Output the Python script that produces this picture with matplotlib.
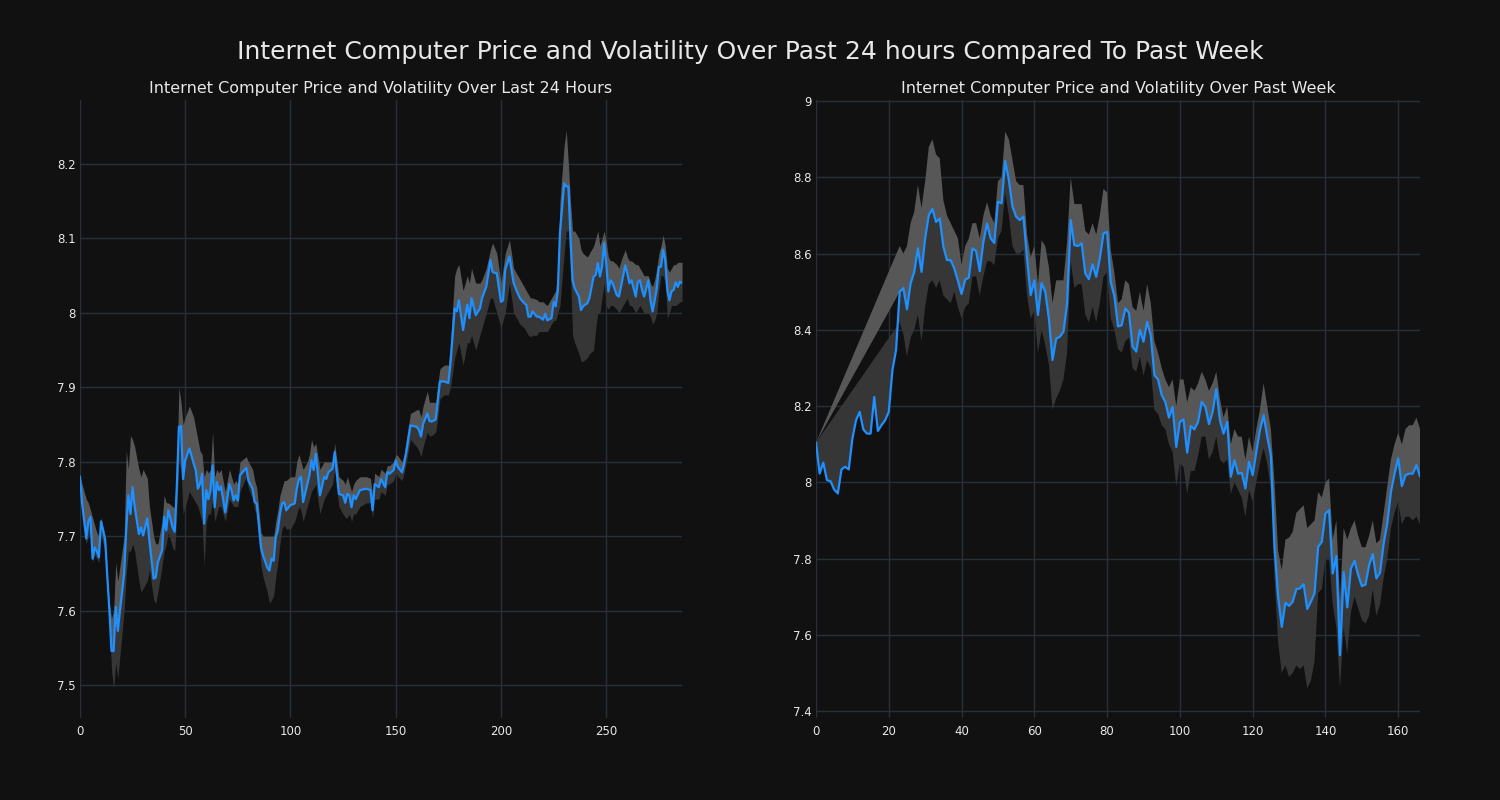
import matplotlib.pyplot as plt
from matplotlib.ticker import FuncFormatter, MultipleLocator

# last 24 hours (5 min steps)
day_x = [0, 1, 3, 4, 5, 6, 7, 8, 9, 10, 12, 13, 14, 15, 16, 17, 18, 19, 21, 22,
         23, 24, 25, 26, 28, 29, 30, 32, 33, 35, 36, 37, 39, 40, 41, 42, 44, 45, 46, 47,
         48, 49, 50, 52, 54, 55, 56, 57, 58, 59, 60, 61, 62, 63, 64, 65, 66, 67, 68, 69,
         71, 72, 73, 74, 75, 76, 79, 80, 82, 83, 84, 86, 87, 89, 90, 91, 92, 93, 94, 95,
         96, 97, 98, 100, 102, 103, 104, 105, 106, 108, 109, 110, 111, 112, 114, 116, 117, 118, 120, 121,
         123, 125, 126, 127, 128, 129, 130, 131, 133, 136, 138, 139, 140, 142, 143, 145, 146, 147, 149, 150,
         151, 153, 154, 155, 157, 160, 161, 162, 163, 165, 166, 167, 169, 170, 171, 173, 175, 176, 178, 179,
         180, 182, 183, 184, 185, 186, 188, 190, 191, 193, 195, 196, 198, 200, 201, 202, 204, 205, 206, 208,
         209, 211, 212, 213, 214, 215, 217, 218, 220, 221, 222, 224, 225, 226, 227, 228, 230, 231, 232, 233,
         234, 235, 237, 238, 239, 241, 242, 244, 245, 246, 247, 248, 249, 250, 251, 252, 253, 255, 256, 257,
         259, 260, 261, 262, 264, 265, 266, 267, 268, 270, 271, 272, 273, 274, 275, 276, 277, 278, 279, 280,
         281, 282, 283, 284, 285, 286]
day_price = [7.780, 7.745, 7.697, 7.720, 7.726, 7.670, 7.685, 7.680, 7.672, 7.720,
             7.695, 7.645, 7.600, 7.546, 7.546, 7.605, 7.573, 7.600, 7.650, 7.710,
             7.755, 7.730, 7.766, 7.740, 7.703, 7.712, 7.701, 7.724, 7.694, 7.643,
             7.645, 7.665, 7.681, 7.726, 7.708, 7.735, 7.712, 7.706, 7.766, 7.847,
             7.848, 7.777, 7.802, 7.818, 7.798, 7.789, 7.764, 7.770, 7.784, 7.717,
             7.762, 7.750, 7.762, 7.795, 7.739, 7.773, 7.762, 7.767, 7.750, 7.732,
             7.770, 7.762, 7.748, 7.755, 7.748, 7.782, 7.792, 7.775, 7.764, 7.746,
             7.744, 7.685, 7.674, 7.658, 7.654, 7.670, 7.667, 7.699, 7.708, 7.730,
             7.744, 7.746, 7.735, 7.742, 7.744, 7.764, 7.777, 7.780, 7.746, 7.770,
             7.782, 7.802, 7.789, 7.811, 7.755, 7.780, 7.777, 7.786, 7.791, 7.813,
             7.757, 7.755, 7.745, 7.757, 7.755, 7.739, 7.755, 7.750, 7.762, 7.764,
             7.762, 7.735, 7.770, 7.766, 7.777, 7.766, 7.786, 7.784, 7.789, 7.802,
             7.793, 7.786, 7.798, 7.813, 7.849, 7.847, 7.843, 7.834, 7.851, 7.865,
             7.855, 7.854, 7.857, 7.883, 7.908, 7.908, 7.906, 7.932, 8.006, 8.002,
             8.017, 7.977, 7.995, 8.011, 7.993, 8.020, 7.997, 8.006, 8.020, 8.035,
             8.071, 8.055, 8.053, 8.015, 8.017, 8.058, 8.076, 8.058, 8.040, 8.026,
             8.020, 8.013, 8.011, 7.995, 7.995, 8.002, 7.995, 7.995, 7.991, 7.999,
             7.990, 7.993, 8.015, 8.009, 8.031, 8.107, 8.174, 8.170, 8.170, 8.102,
             8.044, 8.033, 8.022, 8.004, 8.009, 8.013, 8.020, 8.049, 8.051, 8.067,
             8.049, 8.062, 8.094, 8.067, 8.029, 8.044, 8.040, 8.024, 8.022, 8.035,
             8.064, 8.053, 8.040, 8.044, 8.022, 8.042, 8.044, 8.031, 8.022, 8.044,
             8.017, 8.002, 8.017, 8.033, 8.062, 8.062, 8.085, 8.071, 8.031, 8.017,
             8.029, 8.031, 8.041, 8.035, 8.042, 8.040]
day_low = [7.780, 7.725, 7.690, 7.700, 7.705, 7.665, 7.675, 7.670, 7.665, 7.700,
           7.680, 7.630, 7.585, 7.520, 7.495, 7.530, 7.510, 7.540, 7.600, 7.650,
           7.680, 7.680, 7.690, 7.680, 7.640, 7.625, 7.630, 7.640, 7.655, 7.615,
           7.610, 7.625, 7.660, 7.680, 7.690, 7.705, 7.685, 7.680, 7.730, 7.800,
           7.790, 7.730, 7.740, 7.760, 7.750, 7.745, 7.740, 7.730, 7.720, 7.660,
           7.720, 7.730, 7.730, 7.750, 7.720, 7.730, 7.740, 7.740, 7.730, 7.720,
           7.750, 7.745, 7.740, 7.740, 7.740, 7.760, 7.780, 7.765, 7.750, 7.735,
           7.730, 7.660, 7.645, 7.625, 7.610, 7.615, 7.620, 7.645, 7.665, 7.690,
           7.710, 7.715, 7.710, 7.710, 7.720, 7.730, 7.740, 7.735, 7.720, 7.740,
           7.750, 7.760, 7.765, 7.770, 7.730, 7.750, 7.755, 7.760, 7.770, 7.790,
           7.740, 7.730, 7.725, 7.725, 7.730, 7.720, 7.730, 7.730, 7.740, 7.745,
           7.745, 7.725, 7.750, 7.750, 7.760, 7.755, 7.770, 7.770, 7.775, 7.785,
           7.780, 7.775, 7.785, 7.800, 7.830, 7.820, 7.815, 7.807, 7.820, 7.840,
           7.835, 7.835, 7.840, 7.860, 7.885, 7.890, 7.890, 7.900, 7.940, 7.950,
           7.960, 7.930, 7.945, 7.960, 7.960, 7.970, 7.950, 7.970, 7.980, 8.000,
           8.020, 8.020, 8.000, 7.980, 7.990, 8.000, 8.040, 8.020, 8.000, 7.990,
           7.985, 7.980, 7.975, 7.970, 7.968, 7.970, 7.970, 7.975, 7.975, 7.975,
           7.975, 7.985, 7.990, 7.990, 8.000, 8.010, 8.080, 8.110, 8.110, 8.050,
           7.970, 7.960, 7.945, 7.935, 7.935, 7.940, 7.945, 7.950, 7.980, 8.000,
           8.000, 8.020, 8.040, 8.010, 8.005, 8.010, 8.010, 8.005, 8.000, 8.005,
           8.015, 8.020, 8.010, 8.010, 8.000, 8.005, 8.010, 8.005, 8.000, 8.000,
           7.995, 7.985, 7.990, 8.000, 8.030, 8.050, 8.050, 8.040, 7.993, 8.000,
           8.010, 8.010, 8.010, 8.012, 8.015, 8.015]
day_high = [7.780, 7.770, 7.750, 7.745, 7.735, 7.725, 7.715, 7.705, 7.700, 7.725,
            7.700, 7.650, 7.610, 7.590, 7.600, 7.665, 7.640, 7.660, 7.700, 7.815,
            7.790, 7.835, 7.830, 7.820, 7.790, 7.780, 7.790, 7.778, 7.740, 7.700,
            7.690, 7.690, 7.720, 7.755, 7.745, 7.745, 7.740, 7.738, 7.790, 7.900,
            7.880, 7.850, 7.860, 7.875, 7.860, 7.845, 7.830, 7.815, 7.810, 7.780,
            7.790, 7.785, 7.790, 7.840, 7.780, 7.790, 7.785, 7.790, 7.775, 7.760,
            7.790, 7.780, 7.770, 7.775, 7.770, 7.800, 7.807, 7.800, 7.790, 7.775,
            7.765, 7.705, 7.700, 7.700, 7.700, 7.700, 7.700, 7.720, 7.735, 7.755,
            7.765, 7.775, 7.775, 7.780, 7.780, 7.800, 7.810, 7.800, 7.790, 7.800,
            7.810, 7.830, 7.820, 7.825, 7.790, 7.800, 7.800, 7.800, 7.800, 7.825,
            7.780, 7.775, 7.770, 7.780, 7.770, 7.760, 7.770, 7.775, 7.780, 7.780,
            7.778, 7.755, 7.785, 7.780, 7.790, 7.785, 7.795, 7.795, 7.800, 7.810,
            7.808, 7.800, 7.810, 7.830, 7.865, 7.870, 7.870, 7.860, 7.875, 7.895,
            7.880, 7.880, 7.880, 7.905, 7.925, 7.930, 7.930, 7.960, 8.050, 8.060,
            8.065, 8.030, 8.040, 8.050, 8.040, 8.060, 8.040, 8.040, 8.045, 8.060,
            8.085, 8.094, 8.080, 8.040, 8.060, 8.080, 8.098, 8.080, 8.060, 8.050,
            8.045, 8.035, 8.030, 8.025, 8.020, 8.020, 8.018, 8.015, 8.015, 8.012,
            8.010, 8.020, 8.025, 8.030, 8.060, 8.150, 8.225, 8.245, 8.200, 8.150,
            8.110, 8.110, 8.100, 8.085, 8.080, 8.075, 8.080, 8.090, 8.100, 8.110,
            8.090, 8.100, 8.110, 8.095, 8.075, 8.070, 8.070, 8.065, 8.060, 8.070,
            8.085, 8.075, 8.070, 8.070, 8.065, 8.065, 8.060, 8.055, 8.050, 8.050,
            8.040, 8.035, 8.045, 8.060, 8.080, 8.090, 8.105, 8.090, 8.060, 8.055,
            8.060, 8.065, 8.065, 8.068, 8.068, 8.068]

# past week (hourly)
week_price = [8.104, 8.023, 8.052, 8.006, 8.003, 7.981, 7.971, 8.034, 8.041, 8.034,
              8.115, 8.163, 8.185, 8.139, 8.128, 8.128, 8.224, 8.135, 8.150, 8.163,
              8.185, 8.294, 8.347, 8.500, 8.510, 8.454, 8.522, 8.552, 8.614, 8.552,
              8.640, 8.701, 8.717, 8.683, 8.692, 8.618, 8.583, 8.583, 8.561, 8.529,
              8.494, 8.532, 8.537, 8.614, 8.607, 8.554, 8.631, 8.679, 8.640, 8.628,
              8.736, 8.732, 8.843, 8.793, 8.723, 8.697, 8.688, 8.697, 8.587, 8.491,
              8.530, 8.439, 8.523, 8.500, 8.430, 8.321, 8.377, 8.382, 8.395, 8.469,
              8.688, 8.622, 8.620, 8.627, 8.548, 8.533, 8.572, 8.539, 8.587, 8.653,
              8.657, 8.525, 8.489, 8.409, 8.412, 8.456, 8.445, 8.356, 8.343, 8.400,
              8.369, 8.421, 8.386, 8.281, 8.270, 8.229, 8.211, 8.170, 8.198, 8.093,
              8.159, 8.165, 8.078, 8.148, 8.139, 8.159, 8.211, 8.198, 8.153, 8.185,
              8.245, 8.163, 8.128, 8.159, 8.015, 8.058, 8.023, 8.025, 7.984, 8.054,
              8.019, 8.080, 8.137, 8.176, 8.120, 8.071, 7.831, 7.700, 7.621, 7.684,
              7.676, 7.687, 7.720, 7.722, 7.733, 7.668, 7.687, 7.709, 7.831, 7.844,
              7.918, 7.927, 7.761, 7.807, 7.547, 7.765, 7.672, 7.774, 7.794, 7.757,
              7.728, 7.732, 7.783, 7.812, 7.748, 7.763, 7.840, 7.892, 7.975, 8.023,
              8.063, 7.990, 8.019, 8.023, 8.023, 8.045, 8.016]
# volatility band only exists at hour 0 and from hour 23 on
week_band_x = [0] + list(range(23, 167))
week_low = [8.104,
            8.42, 8.39, 8.33, 8.38, 8.40, 8.44, 8.37, 8.46, 8.52, 8.53,
            8.51, 8.53, 8.49, 8.48, 8.47, 8.50, 8.46, 8.43, 8.46, 8.47,
            8.54, 8.54, 8.49, 8.54, 8.58, 8.58, 8.57, 8.64, 8.66, 8.76,
            8.70, 8.62, 8.60, 8.60, 8.61, 8.49, 8.43, 8.45, 8.34, 8.40,
            8.36, 8.31, 8.19, 8.22, 8.24, 8.27, 8.34, 8.58, 8.51, 8.52,
            8.52, 8.44, 8.42, 8.46, 8.42, 8.47, 8.54, 8.55, 8.43, 8.40,
            8.35, 8.34, 8.37, 8.38, 8.30, 8.29, 8.33, 8.28, 8.32, 8.30,
            8.19, 8.18, 8.15, 8.14, 8.10, 8.08, 7.99, 8.05, 8.04, 7.97,
            8.03, 8.03, 8.07, 8.12, 8.12, 8.06, 8.08, 8.12, 8.06, 8.05,
            8.06, 7.97, 8.00, 7.98, 7.96, 7.91, 7.98, 7.95, 8.00, 8.05,
            8.09, 8.05, 7.98, 7.75, 7.58, 7.50, 7.52, 7.49, 7.50, 7.52,
            7.51, 7.52, 7.46, 7.48, 7.53, 7.71, 7.72, 7.80, 7.80, 7.68,
            7.62, 7.46, 7.62, 7.55, 7.66, 7.70, 7.67, 7.64, 7.63, 7.65,
            7.72, 7.65, 7.68, 7.75, 7.80, 7.88, 7.92, 7.95, 7.89, 7.91,
            7.91, 7.90, 7.91, 7.89]
week_high = [8.104,
             8.62, 8.60, 8.62, 8.68, 8.71, 8.78, 8.72, 8.79, 8.88, 8.90,
             8.86, 8.85, 8.74, 8.70, 8.68, 8.66, 8.64, 8.57, 8.62, 8.64,
             8.68, 8.68, 8.64, 8.70, 8.735, 8.70, 8.68, 8.79, 8.80, 8.92,
             8.90, 8.845, 8.79, 8.78, 8.78, 8.65, 8.59, 8.62, 8.52, 8.635,
             8.62, 8.565, 8.47, 8.53, 8.53, 8.53, 8.63, 8.80, 8.73, 8.73,
             8.73, 8.66, 8.65, 8.68, 8.65, 8.70, 8.77, 8.76, 8.61, 8.55,
             8.47, 8.48, 8.53, 8.52, 8.46, 8.45, 8.50, 8.45, 8.52, 8.47,
             8.37, 8.34, 8.30, 8.27, 8.25, 8.27, 8.20, 8.27, 8.27, 8.21,
             8.25, 8.24, 8.26, 8.29, 8.27, 8.24, 8.26, 8.29, 8.22, 8.17,
             8.20, 8.10, 8.14, 8.12, 8.12, 8.06, 8.12, 8.08, 8.14, 8.19,
             8.26, 8.20, 8.14, 8.00, 7.82, 7.77, 7.85, 7.855, 7.87, 7.92,
             7.93, 7.94, 7.88, 7.89, 7.90, 7.975, 7.96, 8.00, 8.01, 7.85,
             7.90, 7.69, 7.88, 7.85, 7.88, 7.90, 7.86, 7.83, 7.83, 7.86,
             7.90, 7.84, 7.85, 7.92, 7.99, 8.06, 8.10, 8.13, 8.10, 8.14,
             8.15, 8.15, 8.17, 8.14]

bg = "#111111"
grid_col = "#27303a"
txt = "#e8e8e8"
line_col = "#1e90ff"
light = "#575757"
dark = "#363636"

fig = plt.figure(figsize=(15, 8), dpi=100, facecolor=bg)
ax1 = fig.add_axes([0.0533, 0.1025, 0.4014, 0.7725])
ax2 = fig.add_axes([0.544, 0.1025, 0.4027, 0.7725])

# 24h panel
ax1.fill_between(day_x, day_low, day_price, color=dark, linewidth=0)
ax1.fill_between(day_x, day_price, day_high, color=light, linewidth=0)
ax1.plot(day_x, day_price, color=line_col, linewidth=1.6)
ax1.set_xlim(0, 286)
ax1.set_ylim(7.456, 8.286)
ax1.yaxis.set_major_locator(MultipleLocator(0.1))
ax1.xaxis.set_major_locator(MultipleLocator(50))
ax1.set_title("Internet Computer Price and Volatility Over Last 24 Hours",
              color=txt, fontsize=11.5, pad=5)

# week panel
week_x = list(range(len(week_price)))
price_at_band = [week_price[i] for i in week_band_x]
ax2.fill(week_band_x + week_x[::-1], week_low + week_price[::-1],
         color=dark, linewidth=0)
ax2.fill(week_band_x + week_band_x[::-1], week_high + price_at_band[::-1],
         color=light, linewidth=0)
ax2.plot(week_x, week_price, color=line_col, linewidth=1.6)
ax2.set_xlim(0, 166)
ax2.set_ylim(7.382, 9.003)
ax2.yaxis.set_major_locator(MultipleLocator(0.2))
ax2.xaxis.set_major_locator(MultipleLocator(20))
ax2.set_title("Internet Computer Price and Volatility Over Past Week",
              color=txt, fontsize=11.5, pad=5)

fmt = FuncFormatter(lambda v, p: "%g" % round(v, 3))
for ax in (ax1, ax2):
    ax.set_facecolor(bg)
    ax.grid(True, color=grid_col, linewidth=1.0)
    ax.set_axisbelow(True)
    for s in ax.spines.values():
        s.set_visible(False)
    ax.yaxis.set_major_formatter(fmt)
    ax.tick_params(colors=txt, labelsize=8.5, length=0)
    ax.tick_params(axis="y", pad=3)
    ax.tick_params(axis="x", pad=5)

fig.suptitle("Internet Computer Price and Volatility Over Past 24 hours Compared To Past Week",
             color=txt, fontsize=18, y=0.95)

plt.savefig("out.png", facecolor=bg)
